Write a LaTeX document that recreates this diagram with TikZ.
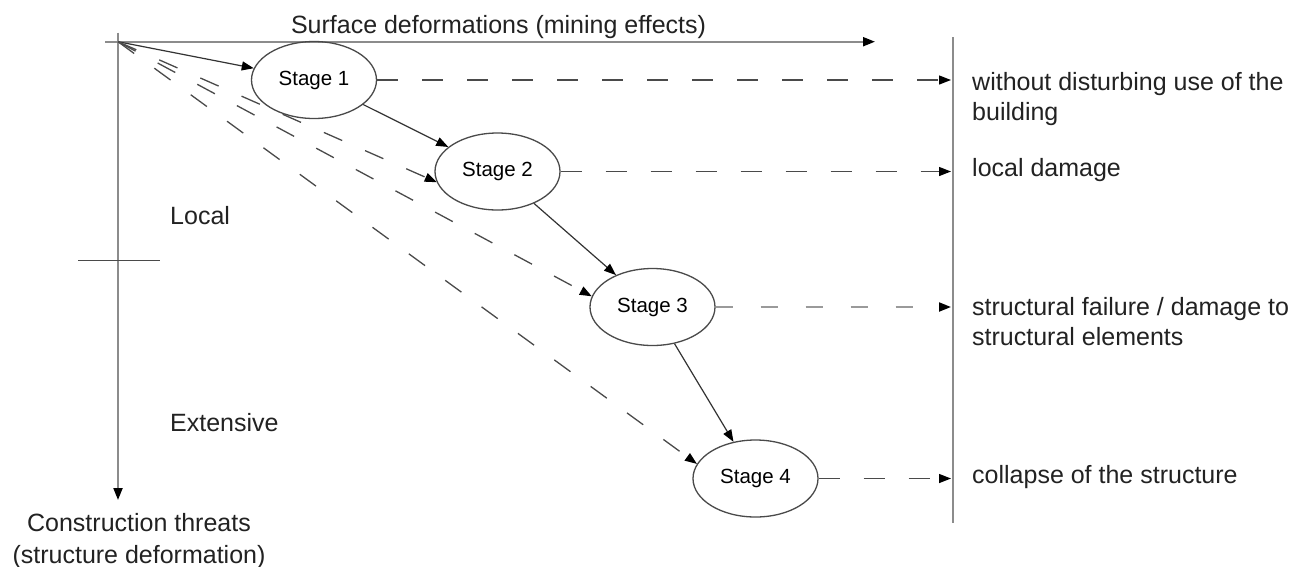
\documentclass[tikz,border=0pt]{standalone}
\usepackage{fontspec}
\setmainfont{Liberation Sans}
\usetikzlibrary{shapes.geometric,arrows.meta}
\definecolor{axisgray}{HTML}{8C8C8C}
\definecolor{linegray}{HTML}{4A4A4A}
\definecolor{lightdash}{HTML}{9A9A9A}
\definecolor{txt}{HTML}{222222}

\begin{document}
\begin{tikzpicture}[x=1pt,y=-1pt,
  tip/.style={-{Triangle[length=12pt,width=9pt,color=black]}},
  axis/.style={draw=axisgray,line width=2pt},
  stagebox/.style={ellipse,draw=linegray,line width=1.3pt,minimum width=125pt,
    minimum height=77pt,inner sep=0pt,font=\fontsize{20.5}{24}\selectfont,text=black},
  flow/.style={tip,draw=black!80,line width=1.2pt},
  ray/.style={tip,draw=linegray,line width=1.3pt,dash pattern=on 20pt off 25pt},
  result/.style={tip,draw=linegray,line width=1.3pt,dash pattern=on 21pt off 24pt,shorten >=2pt},
  lbl/.style={font=\fontsize{25}{30}\selectfont,text=txt,inner sep=0pt},
]
% canvas
\fill[white] (0,0) rectangle (1312,566);
\useasboundingbox (0,0) rectangle (1312,566);

% reference points of the axes
\coordinate (O)  at (118,41.7);
\coordinate (hx) at (875,41.7);
\coordinate (vy) at (118,500);
\coordinate (tick) at (118,260.7);
\coordinate (Rt) at (953,37);
\coordinate (Rb) at (953,523);

% axes
\draw[axis,tip] ([xshift=-13pt]O) -- (hx);
\draw[axis,tip] ([yshift=9pt]O) -- (vy);
\draw[draw=linegray,line width=1.2pt] ([xshift=-40pt]tick) -- ([xshift=42pt]tick);
\draw[axis] (Rt) -- (Rb);

% stages
\node[stagebox] (s1) at (314,80) {Stage 1};
\node[stagebox] (s2) at (497.5,171.5) {Stage 2};
\node[stagebox] (s3) at (652.5,307) {Stage 3};
\node[stagebox] (s4) at (755.5,478.5) {Stage 4};

% progression between stages
\draw[flow] (O) -- (s1);
\draw[flow] (s1) -- (s2);
\draw[flow] (s2) -- (s3);
\draw[flow] (s3) -- (s4);

% direct paths from the origin
\draw[ray] (O) -- (s2.190);
\draw[ray] (O) -- (s3.170);
\draw[ray] (O) -- (s4.166);

% consequences
\draw[result] (s1.east) -- (s1.east -| Rt);
\draw[result] (s2.east) -- (s2.east -| Rt);
\draw[result,draw=lightdash,line width=2pt,dash pattern=on 17pt off 28pt] (s3.east) -- (s3.east -| Rt);
\draw[result] (s4.east) -- (s4.east -| Rt);

% labels (multi-line nodes sit on the baseline of their last line)
\node[lbl,anchor=base] (title) at (498.5,33) {Surface deformations (mining effects)};
\node[lbl,anchor=base west] (local) at (170,224) {Local};
\node[lbl,anchor=base west] (ext) at (170,431) {Extensive};
\node[lbl,anchor=base,align=center,font=\fontsize{25}{31.5}\selectfont] (threat) at (139,563)
  {Construction threats\\(structure deformation)};
\node[lbl,anchor=base west,align=left] (r1) at (972,120) {without disturbing use of the\\building};
\node[lbl,anchor=base west] (r2) at (972,176.7) {local damage};
\node[lbl,anchor=base west,align=left,font=\fontsize{25}{29.3}\selectfont] (r3) at (972,345)
  {structural failure / damage to\\structural elements};
\node[lbl,anchor=base west] (r4) at (972,483.3) {collapse of the structure};
\end{tikzpicture}
\end{document}
